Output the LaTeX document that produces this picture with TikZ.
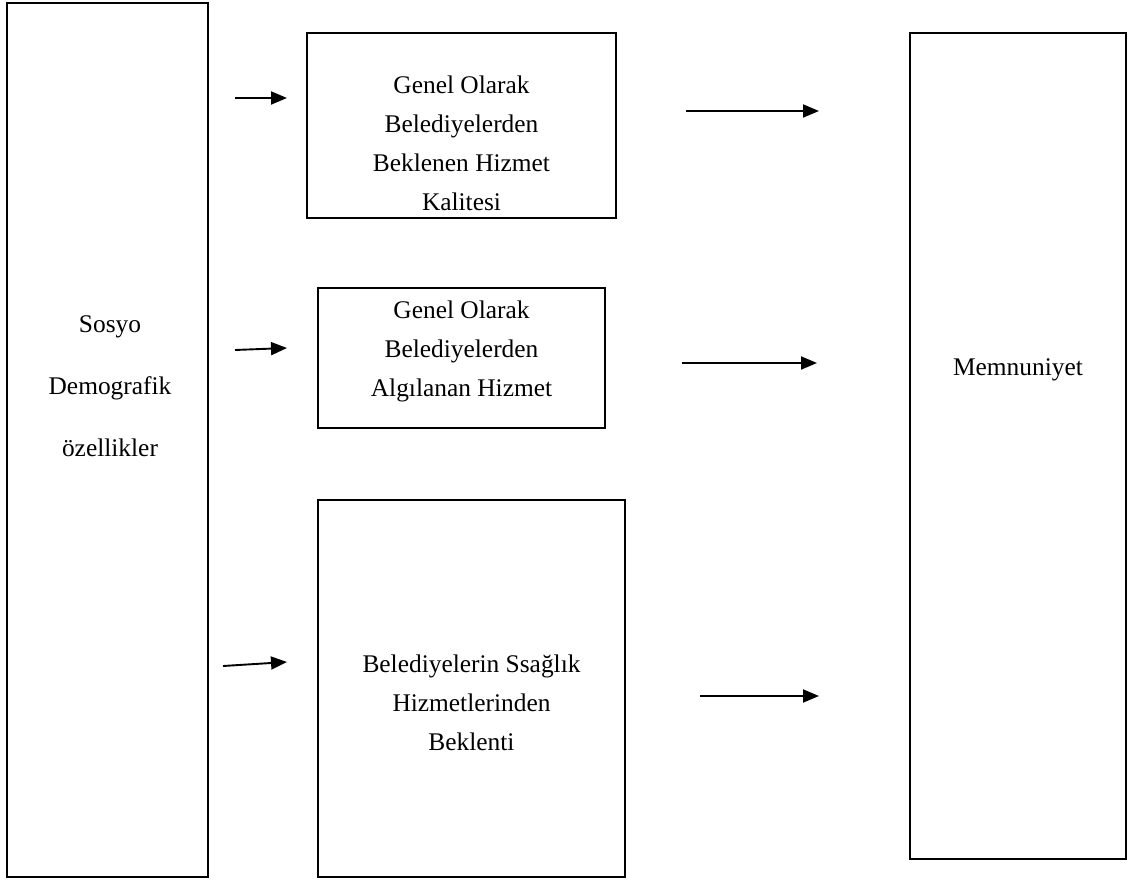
\documentclass[tikz,border=0pt]{standalone}
\usepackage{fontspec}
\setmainfont{Liberation Serif}
\usetikzlibrary{arrows.meta}
\tikzset{
  frame/.style={draw=black, line width=1.7pt, fill=none, inner sep=0pt},
  label text/.style={align=center, inner sep=0pt, font=\fontsize{25.4}{39}\selectfont},
  wide text/.style={align=center, inner sep=0pt, font=\fontsize{25.4}{62}\selectfont},
  link/.style={line width=1.9pt, -{Triangle[length=16pt, width=13pt]}}
}
\begin{document}
\begin{tikzpicture}[x=1pt, y=-1pt]
  \useasboundingbox (0,0) rectangle (1132,882);

  % frames
  \node[frame, minimum width=201pt, minimum height=874pt] (demo) at (107.5,440) {};
  \node[frame, minimum width=309pt, minimum height=185pt] (exp) at (461.5,125.5) {};
  \node[frame, minimum width=287pt, minimum height=140pt] (perc) at (461.5,358) {};
  \node[frame, minimum width=307pt, minimum height=377pt] (health) at (471.5,688.5) {};
  \node[frame, minimum width=216pt, minimum height=826pt] (sat) at (1018,446) {};

  % texts
  \node[wide text] (demot) at (110,386) {Sosyo\\Demografik\\özellikler};
  \node[label text] (expt) at (461.5,143) {Genel Olarak\\Belediyelerden\\Beklenen Hizmet\\Kalitesi};
  \node[label text] (perct) at (461.5,351) {Genel Olarak\\Belediyelerden\\Algılanan Hizmet};
  \node[label text] (healtht) at (471.5,703) {Belediyelerin Ssağlık\\Hizmetlerinden\\Beklenti};
  \node[label text] (satt) at (1018,370) {Memnuniyet};

  % arrow ends
  \coordinate (a1s) at (235,98);  \coordinate (a1e) at (287,98);
  \coordinate (a2s) at (235,350); \coordinate (a2e) at (287,348);
  \coordinate (a3s) at (223,666); \coordinate (a3e) at (287,662);
  \coordinate (b1s) at (686,111); \coordinate (b1e) at (819,111);
  \coordinate (b2s) at (682,363); \coordinate (b2e) at (817,363);
  \coordinate (b3s) at (700,696); \coordinate (b3e) at (819,696);

  \draw[link] (a1s) -- (a1e);
  \draw[link] (a2s) -- (a2e);
  \draw[link] (a3s) -- (a3e);
  \draw[link] (b1s) -- (b1e);
  \draw[link] (b2s) -- (b2e);
  \draw[link] (b3s) -- (b3e);
\end{tikzpicture}
\end{document}
